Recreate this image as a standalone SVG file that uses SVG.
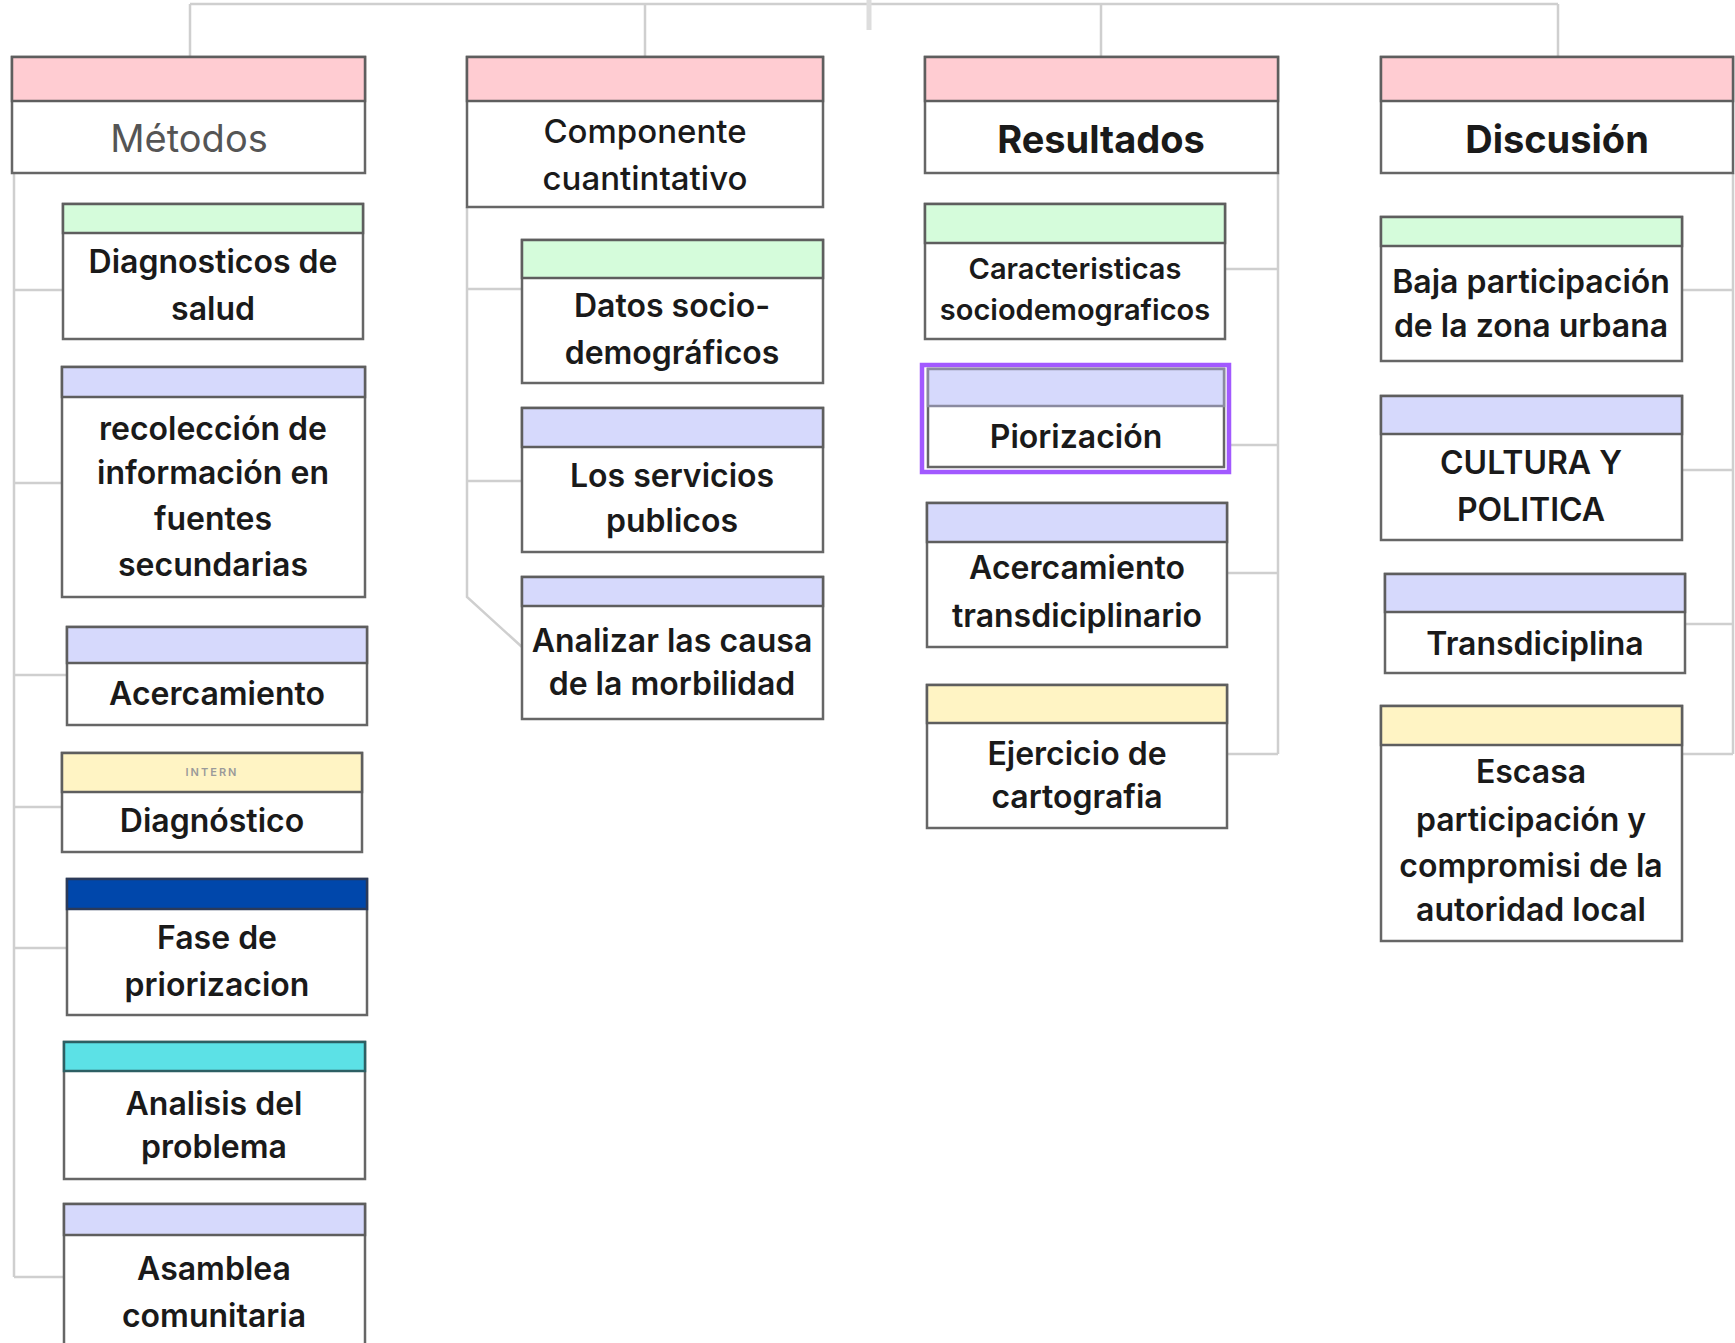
<svg xmlns="http://www.w3.org/2000/svg" width="1735" height="1343" viewBox="0 0 1735 1343">
<style>
.body{fill:#ffffff;stroke:#666666;stroke-width:2.5}
.hd{stroke:#5e5e5e;stroke-width:2.5}
.pink{fill:#ffccd2}
.green{fill:#d5fcdb}
.lav{fill:#d6d9fc}
.yel{fill:#fff4c4}
.blue{fill:#0047ab}
.cyan{fill:#5ce1e6}
.conn{fill:none;stroke:#cfcfcf;stroke-width:2.5}
text{font-family:Inter,"Liberation Sans",sans-serif;text-anchor:middle;fill:#1a1a1a}
.t{font-size:32px;font-weight:600}
.ts{font-size:29px;font-weight:600}
.title{font-size:38px;font-weight:700}
.tag{font-size:11px;fill:#9a9a9a;letter-spacing:2px;font-weight:600}
</style>
<rect width="1735" height="1343" fill="#ffffff"/>
<g id="connectors">
<path class="conn" d="M190,4 H1558 M190,4 V57 M645,4 V57 M1101,4 V57 M1558,4 V57"/>
<path d="M869,0 V30" fill="none" stroke="#dddddd" stroke-width="5"/>
<path class="conn" d="M14,173 V1277 M14,290 H63 M14,483 H62 M14,675 H67 M14,807 H62 M14,948 H67 M14,1277 H64"/>
<path class="conn" d="M467,207 V597 L522,647 M467,289 H522 M467,481 H522"/>
<path class="conn" d="M1278,173 V754 M1225,269 H1278 M1230,445 H1278 M1227,573 H1278 M1227,754 H1278"/>
<path class="conn" d="M1733,173 V754 M1682,290 H1733 M1682,470 H1733 M1685,624 H1733 M1682,754 H1733"/>
</g>
<g id="metodos">
<rect class="body" x="12" y="57" width="353" height="116"/>
<rect class="hd pink" x="12" y="57" width="353" height="44"/>
<text x="189" y="152" style="font-size:38px;font-weight:400;fill:#555555">Métodos</text>
</g>
<g id="componente">
<rect class="body" x="467" y="57" width="356" height="150"/>
<rect class="hd pink" x="467" y="57" width="356" height="44"/>
<text class="t" x="645" y="143" style="font-size:33px;font-weight:500">Componente</text>
<text class="t" x="645" y="190" style="font-size:33px;font-weight:500">cuantintativo</text>
</g>
<g id="resultados">
<rect class="body" x="925" y="57" width="353" height="116"/>
<rect class="hd pink" x="925" y="57" width="353" height="44"/>
<text class="title" x="1101" y="153">Resultados</text>
</g>
<g id="discusion">
<rect class="body" x="1381" y="57" width="352" height="116"/>
<rect class="hd pink" x="1381" y="57" width="352" height="44"/>
<text class="title" x="1557" y="153">Discusión</text>
</g>
<g id="diagnosticos-salud">
<rect class="body" x="63" y="204" width="300" height="135"/>
<rect class="hd green" x="63" y="204" width="300" height="29"/>
<text class="t" x="213" y="273">Diagnosticos de</text>
<text class="t" x="213" y="320">salud</text>
</g>
<g id="recoleccion">
<rect class="body" x="62" y="367" width="303" height="230"/>
<rect class="hd lav" x="62" y="367" width="303" height="30"/>
<text class="t" x="213" y="440">recolección de</text>
<text class="t" x="213" y="484">información en</text>
<text class="t" x="213" y="530">fuentes</text>
<text class="t" x="213" y="576">secundarias</text>
</g>
<g id="acercamiento">
<rect class="body" x="67" y="627" width="300" height="98"/>
<rect class="hd lav" x="67" y="627" width="300" height="36"/>
<text class="t" x="217" y="705">Acercamiento</text>
</g>
<g id="diagnostico">
<rect class="body" x="62" y="753" width="300" height="99"/>
<rect class="hd yel" x="62" y="753" width="300" height="39"/>
<text class="tag" x="212" y="776">INTERN</text>
<text class="t" x="212" y="832">Diagnóstico</text>
</g>
<g id="fase-priorizacion">
<rect class="body" x="67" y="879" width="300" height="136"/>
<rect class="hd blue" x="67" y="879" width="300" height="30" style="stroke:#2a3a5a"/>
<text class="t" x="217" y="949">Fase de</text>
<text class="t" x="217" y="996">priorizacion</text>
</g>
<g id="analisis">
<rect class="body" x="64" y="1042" width="301" height="137"/>
<rect class="hd cyan" x="64" y="1042" width="301" height="29" style="stroke:#2d5f63"/>
<text class="t" x="214" y="1115">Analisis del</text>
<text class="t" x="214" y="1158">problema</text>
</g>
<g id="asamblea">
<rect class="body" x="64" y="1204" width="301" height="160"/>
<rect class="hd lav" x="64" y="1204" width="301" height="31"/>
<text class="t" x="214" y="1280">Asamblea</text>
<text class="t" x="214" y="1327">comunitaria</text>
</g>
<g id="datos">
<rect class="body" x="522" y="240" width="301" height="143"/>
<rect class="hd green" x="522" y="240" width="301" height="38"/>
<text class="t" x="672" y="317">Datos socio-</text>
<text class="t" x="672" y="364">demográficos</text>
</g>
<g id="servicios">
<rect class="body" x="522" y="408" width="301" height="144"/>
<rect class="hd lav" x="522" y="408" width="301" height="39"/>
<text class="t" x="672" y="487">Los servicios</text>
<text class="t" x="672" y="532">publicos</text>
</g>
<g id="analizar">
<rect class="body" x="522" y="577" width="301" height="142"/>
<rect class="hd lav" x="522" y="577" width="301" height="29"/>
<text class="t" x="672" y="652">Analizar las causa</text>
<text class="t" x="672" y="695">de la morbilidad</text>
</g>
<g id="caracteristicas">
<rect class="body" x="925" y="204" width="300" height="135"/>
<rect class="hd green" x="925" y="204" width="300" height="39"/>
<text class="ts" x="1075" y="279">Caracteristicas</text>
<text class="ts" x="1075" y="320">sociodemograficos</text>
</g>
<g id="piorizacion">
<rect x="922" y="365" width="307" height="107" fill="none" stroke="#a259ff" stroke-width="4.5"/>
<rect class="body" x="928" y="369" width="296" height="98"/>
<rect class="hd lav" x="928" y="369" width="296" height="37" style="stroke:#8a8aa0"/>
<text class="t" x="1076" y="448">Piorización</text>
</g>
<g id="acercamiento-trans">
<rect class="body" x="927" y="503" width="300" height="144"/>
<rect class="hd lav" x="927" y="503" width="300" height="39"/>
<text class="t" x="1077" y="579">Acercamiento</text>
<text class="t" x="1077" y="627">transdiciplinario</text>
</g>
<g id="cartografia">
<rect class="body" x="927" y="685" width="300" height="143"/>
<rect class="hd yel" x="927" y="685" width="300" height="38"/>
<text class="t" x="1077" y="765">Ejercicio de</text>
<text class="t" x="1077" y="808">cartografia</text>
</g>
<g id="baja">
<rect class="body" x="1381" y="217" width="301" height="144"/>
<rect class="hd green" x="1381" y="217" width="301" height="29"/>
<text class="t" x="1531" y="293">Baja participación</text>
<text class="t" x="1531" y="337">de la zona urbana</text>
</g>
<g id="cultura">
<rect class="body" x="1381" y="396" width="301" height="144"/>
<rect class="hd lav" x="1381" y="396" width="301" height="38"/>
<text class="t" x="1531" y="474">CULTURA Y</text>
<text class="t" x="1531" y="521">POLITICA</text>
</g>
<g id="transdiciplina">
<rect class="body" x="1385" y="574" width="300" height="99"/>
<rect class="hd lav" x="1385" y="574" width="300" height="38"/>
<text class="t" x="1535" y="655">Transdiciplina</text>
</g>
<g id="escasa">
<rect class="body" x="1381" y="706" width="301" height="235"/>
<rect class="hd yel" x="1381" y="706" width="301" height="39"/>
<text class="t" x="1531" y="783">Escasa</text>
<text class="t" x="1531" y="831">participación y</text>
<text class="t" x="1531" y="877">compromisi de la</text>
<text class="t" x="1531" y="921">autoridad local</text>
</g>
</svg>
